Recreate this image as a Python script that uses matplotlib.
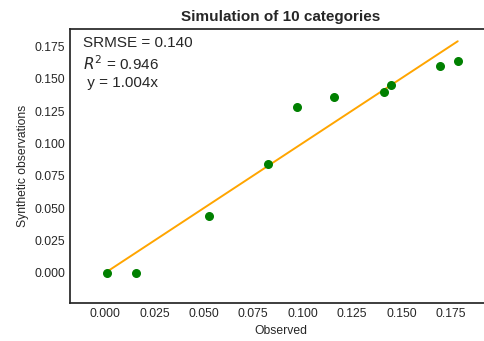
import matplotlib.pyplot as plt

plt.style.use("seaborn-v0_8-white")
plt.rcParams["font.family"] = ["Liberation Sans", "DejaVu Sans"]

# Observed vs synthetic shares for the 10 categories
observed = [0.001, 0.0157, 0.0527, 0.0826, 0.0973, 0.1156, 0.1409, 0.1445, 0.1693, 0.1784]
synthetic = [0.000, 0.000, 0.0441, 0.0843, 0.1284, 0.1361, 0.1400, 0.1454, 0.1600, 0.1640]
slope = 1.004
srmse = 0.140
r2 = 0.946

fig = plt.figure(figsize=(4.85, 3.41), dpi=100)
ax = fig.add_axes([0.1443, 0.1114, 0.87, 0.804])

ax.scatter(observed, synthetic, color="green", s=30, zorder=3)
xs = [0.0, max(observed)]
ax.plot(xs, [slope * x for x in xs], color="orange", linewidth=1.4, zorder=2)

ax.text(0.031, 0.975,
        "SRMSE = %.3f\n$R^2$ = %.3f\n y = %.3fx" % (srmse, r2, slope),
        transform=ax.transAxes, va="top", ha="left", fontsize=11,
        color=".15", linespacing=1.3)

ax.set_xlim(-0.0177, 0.1957)
ax.set_ylim(-0.0232, 0.1887)
ax.set_xticks([0, 0.025, 0.05, 0.075, 0.1, 0.125, 0.15, 0.175])
ax.set_yticks([0, 0.025, 0.05, 0.075, 0.1, 0.125, 0.15, 0.175])
ax.tick_params(labelsize=8.7, colors=".15", length=0)

ax.set_title("Simulation of 10 categories", fontsize=11, fontweight="bold", color=".15")
ax.set_xlabel("Observed", fontsize=8.7, color=".15")
ax.set_ylabel("Synthetic observations", fontsize=8.7, color=".15")

for side in ["left", "top", "bottom", "right"]:
    ax.spines[side].set_color(".15")
    ax.spines[side].set_linewidth(1.25)

fig.savefig("out.png", dpi=100)
